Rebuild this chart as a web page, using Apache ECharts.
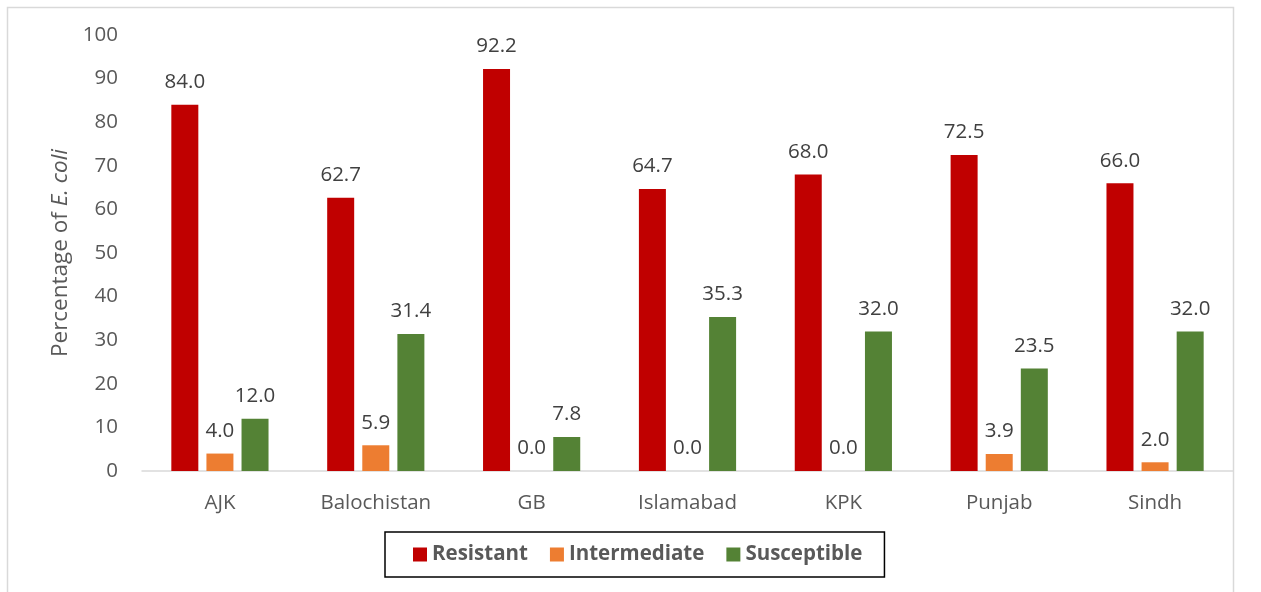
<!DOCTYPE html>
<html>
<head>
<meta charset="utf-8">
<script src="https://cdn.jsdelivr.net/npm/echarts@6/dist/echarts.min.js"></script>
<style>
  html, body { margin: 0; padding: 0; background: #ffffff; }
  #chart { width: 1261px; height: 592px; }
</style>
</head>
<body>
<div id="chart"></div>
<script>
// Regions and resistance categories
const regions = ['AJK', 'Balochistan', 'GB', 'Islamabad', 'KPK', 'Punjab', 'Sindh'];
const resistant = [84.0, 62.7, 92.2, 64.7, 68.0, 72.5, 66.0];
const intermediate = [4.0, 5.9, 0.0, 0.0, 0.0, 3.9, 2.0];
const susceptible = [12.0, 31.4, 7.8, 35.3, 32.0, 23.5, 32.0];
const yTicks = [0, 10, 20, 30, 40, 50, 60, 70, 80, 90, 100];

const FONT = '"Open Sans", "DejaVu Sans", sans-serif';

const chart = echarts.init(document.getElementById('chart'), null, { renderer: 'canvas' });

function barSeries(name, data, color) {
  return {
    name: name,
    type: 'bar',
    data: data,
    barWidth: 27,
    barGap: '30%',
    itemStyle: { color: color },
    label: {
      show: true,
      position: 'top',
      distance: 12,
      formatter: p => p.value.toFixed(1),
      color: '#404040',
      fontFamily: FONT,
      fontSize: 20.5
    }
  };
}

chart.setOption({
  animation: false,
  backgroundColor: '#ffffff',
  graphic: [{
    type: 'rect',
    shape: { x: 7.5, y: 7.5, width: 1226, height: 600 },
    style: { fill: 'none', stroke: '#d9d9d9', lineWidth: 1.5 },
    silent: true
  }],
  grid: { left: 142, right: 28, top: 35, bottom: 121 },
  legend: {
    data: ['Resistant', 'Intermediate', 'Susceptible'],
    left: 385,
    top: 532,
    padding: [12, 22, 12, 28],
    borderColor: '#000000',
    borderWidth: 1.5,
    itemWidth: 14,
    itemHeight: 14,
    itemGap: 22,
    icon: 'rect',
    textStyle: {
      color: '#595959',
      fontFamily: FONT,
      fontSize: 20.5,
      fontWeight: 'bold'
    }
  },
  xAxis: {
    type: 'category',
    data: regions,
    axisLine: { lineStyle: { color: '#d9d9d9', width: 1.5 } },
    axisTick: { show: false },
    axisLabel: {
      color: '#595959',
      fontFamily: FONT,
      fontSize: 20.5,
      margin: 22
    }
  },
  yAxis: {
    type: 'value',
    min: yTicks[0],
    max: yTicks[yTicks.length - 1],
    interval: 10,
    name: '{n|Percentage of }{i|E. coli}',
    nameLocation: 'middle',
    nameGap: 70,
    nameTextStyle: {
      rich: {
        n: { color: '#595959', fontFamily: FONT, fontSize: 22.5 },
        i: { color: '#595959', fontFamily: FONT, fontSize: 22.5, fontStyle: 'italic' }
      }
    },
    axisLine: { show: false },
    axisTick: { show: false },
    splitLine: { show: false },
    axisLabel: {
      color: '#595959',
      fontFamily: FONT,
      fontSize: 20.5,
      margin: 24
    }
  },
  series: [
    barSeries('Resistant', resistant, '#c00000'),
    barSeries('Intermediate', intermediate, '#ed7d31'),
    barSeries('Susceptible', susceptible, '#548235')
  ]
});
</script>
</body>
</html>
